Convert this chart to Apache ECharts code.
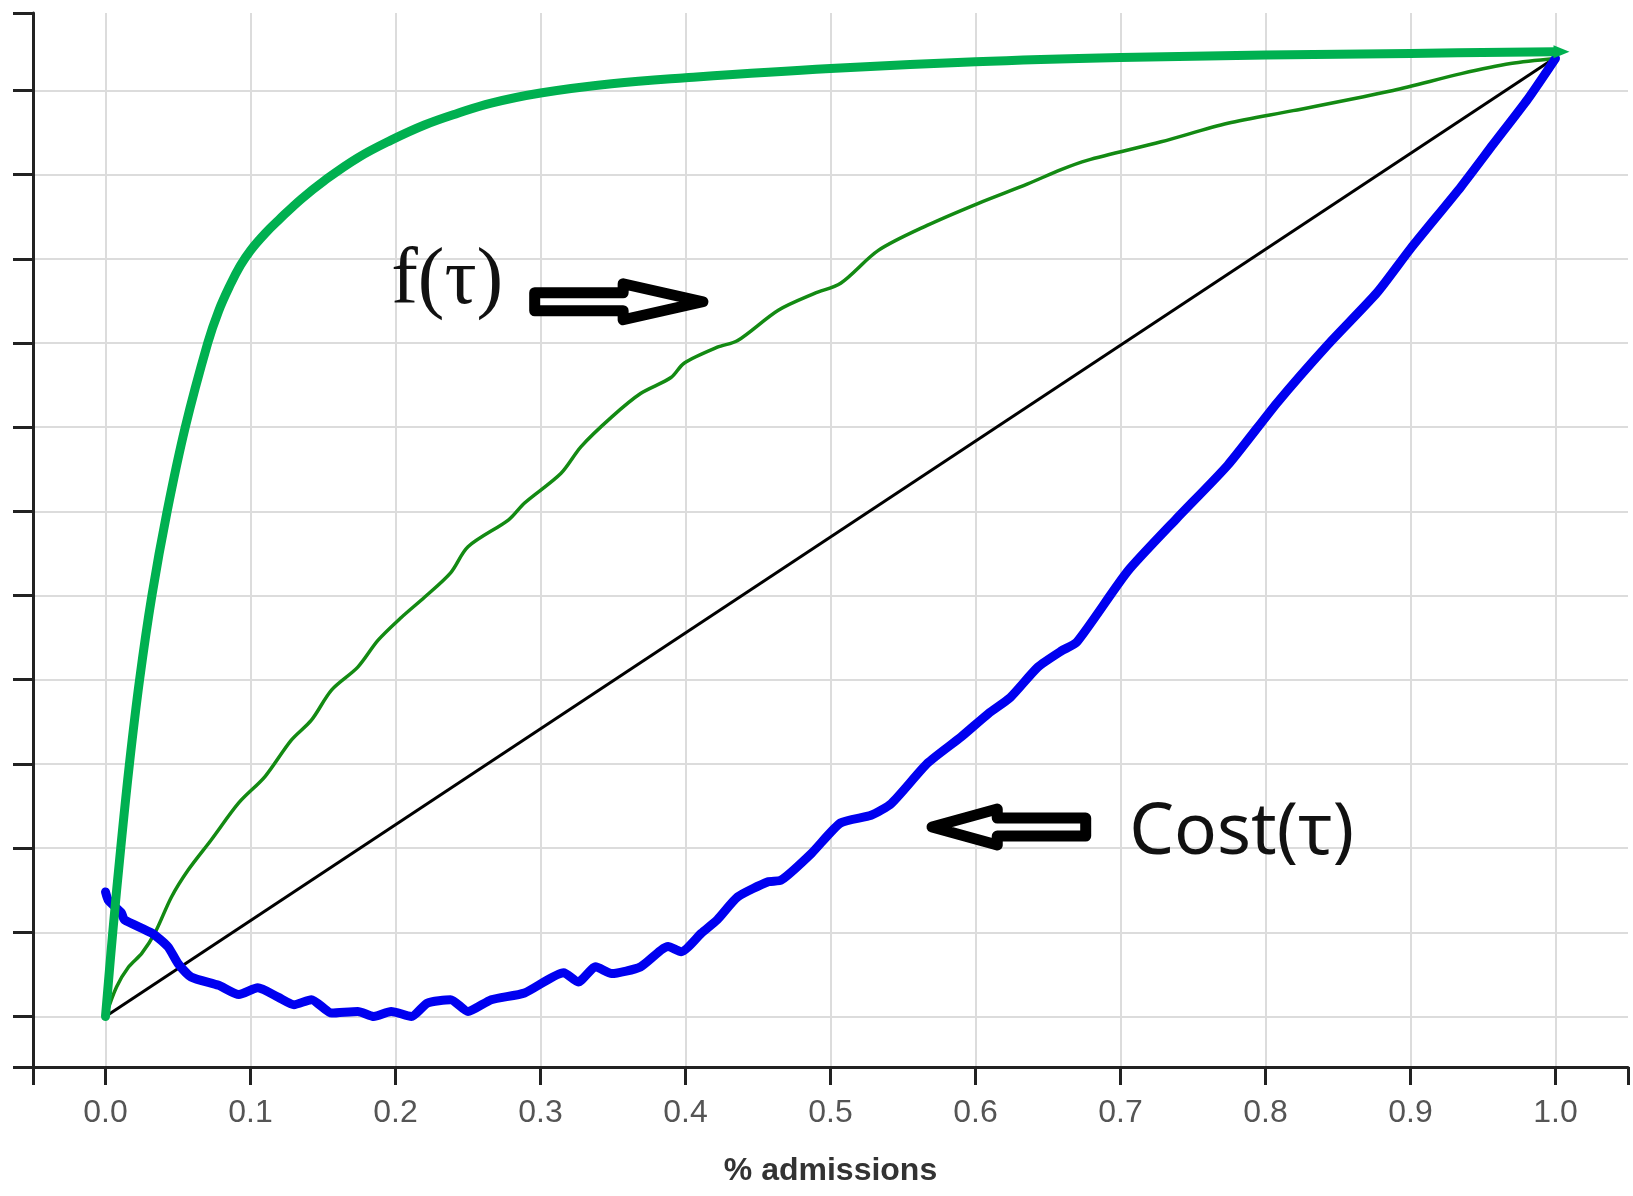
<!DOCTYPE html>
<html>
<head>
<meta charset="utf-8">
<script src="https://cdn.jsdelivr.net/npm/echarts@6/dist/echarts.min.js"></script>
<style>
html,body{margin:0;padding:0;background:#fff;}
#chart{width:1633px;height:1196px;}
</style>
</head>
<body>
<div id="chart"></div>
<script>
// ---- axis ticks ----
const xTickValues = [-0.05, 0, 0.1, 0.2, 0.3, 0.4, 0.5, 0.6, 0.7, 0.8, 0.9, 1.0, 1.05];
const xLabelValues = [0, 0.1, 0.2, 0.3, 0.4, 0.5, 0.6, 0.7, 0.8, 0.9, 1.0];
const yTickValues = [-0.6, 0, 1, 2, 3, 4, 5, 6, 7, 8, 9, 10, 11, 11.92];
const yGridValues = [0, 1, 2, 3, 4, 5, 6, 7, 8, 9, 10, 11];

// ---- series data: [% admissions, value in grid units] ----
const diagonal = [[0, 0], [1.0, 11.39]];

const fTau = [[0,0],[0.0076,0.35],[0.016,0.59],[0.025,0.75],[0.034,0.99],[0.0455,1.42],[0.057,1.74],[0.073,2.10],[0.092,2.54],[0.11,2.85],[0.128,3.28],[0.142,3.52],[0.156,3.88],[0.174,4.15],[0.188,4.47],[0.204,4.74],[0.22,4.98],[0.238,5.27],[0.25,5.58],[0.278,5.90],[0.289,6.10],[0.314,6.45],[0.328,6.77],[0.349,7.12],[0.369,7.40],[0.39,7.59],[0.399,7.76],[0.422,7.95],[0.436,8.03],[0.464,8.39],[0.489,8.59],[0.507,8.71],[0.533,9.10],[0.567,9.40],[0.602,9.66],[0.636,9.89],[0.659,10.06],[0.677,10.17],[0.728,10.39],[0.774,10.61],[0.819,10.76],[0.888,11.0],[0.935,11.2],[0.969,11.32],[1.0,11.38]];

const upperCurve = [[0,0],[0.005,1],[0.0105,2],[0.0165,3],[0.0235,4],[0.032,5],[0.0425,6],[0.055,7],[0.0705,8],[0.078,8.38],[0.086,8.69],[0.093,8.92],[0.1,9.1],[0.11,9.3],[0.12,9.47],[0.135,9.71],[0.151,9.93],[0.174,10.2],[0.197,10.41],[0.22,10.59],[0.243,10.73],[0.266,10.85],[0.30,10.97],[0.349,11.08],[0.40,11.15],[0.50,11.26],[0.60,11.34],[0.70,11.39],[0.80,11.42],[0.90,11.44],[1.0,11.46]];

const costTau = [[0,1.48],[0.002,1.38],[0.011,1.23],[0.013,1.15],[0.032,0.99],[0.043,0.83],[0.05,0.63],[0.059,0.47],[0.078,0.37],[0.092,0.26],[0.105,0.34],[0.119,0.23],[0.13,0.14],[0.142,0.2],[0.156,0.04],[0.174,0.06],[0.185,0],[0.197,0.06],[0.211,0],[0.222,0.16],[0.238,0.2],[0.25,0.06],[0.266,0.2],[0.289,0.28],[0.316,0.52],[0.326,0.41],[0.338,0.59],[0.349,0.51],[0.369,0.59],[0.388,0.83],[0.397,0.77],[0.411,0.99],[0.422,1.15],[0.436,1.42],[0.457,1.6],[0.466,1.62],[0.487,1.94],[0.507,2.3],[0.528,2.39],[0.542,2.53],[0.567,3.01],[0.59,3.32],[0.609,3.6],[0.624,3.79],[0.643,4.15],[0.659,4.34],[0.67,4.45],[0.705,5.29],[0.739,5.92],[0.774,6.55],[0.808,7.29],[0.843,7.98],[0.877,8.6],[0.9,9.12],[0.935,9.86],[0.957,10.36],[0.981,10.9],[1.0,11.38]];

// ---- annotations (data coordinates, left edge of text) ----
const annotationText = ['f(τ)', 'Cost(τ)'];
const annotationAt = [[0.197, 8.72], [0.706, 2.17]];
// [tail x, head base x, tip x, level]
const arrowRight = [0.296, 0.357, 0.412, 8.49];
const arrowLeft = [0.676, 0.615, 0.570, 2.25];

const chart = echarts.init(document.getElementById('chart'), null, {renderer: 'canvas'});

const axisColor = '#222';
const gridColor = '#dcdcdc';

const upperData = upperCurve.map((p, i) => i === upperCurve.length - 1
  ? {value: p, symbol: 'triangle', symbolSize: [13, 16], symbolRotate: -90, symbolOffset: [6, 0]}
  : {value: p});

chart.setOption({
  animation: false,
  backgroundColor: '#fff',
  grid: {left: 33, right: 5, top: 13, bottom: 129, containLabel: false, outerBoundsMode: 'none'},
  xAxis: [
    {
      type: 'value', min: -0.05, max: 1.05,
      name: '% admissions', nameLocation: 'middle', nameGap: 88,
      nameTextStyle: {fontFamily: 'Liberation Sans', fontWeight: 'bold', fontSize: 32, color: '#333'},
      axisLine: {show: true, onZero: false, lineStyle: {color: axisColor, width: 3}},
      axisTick: {show: true, length: 18, lineStyle: {color: axisColor, width: 3}, customValues: xTickValues},
      axisLabel: {show: true, customValues: xLabelValues, formatter: v => v.toFixed(1),
        fontFamily: 'Liberation Sans', fontSize: 32, color: '#555', margin: 30},
      splitLine: {show: false}
    },
    {
      type: 'value', min: -0.05, max: 1.05, position: 'bottom',
      axisLine: {show: false},
      axisTick: {show: false, customValues: xLabelValues},
      axisLabel: {show: false},
      splitLine: {show: true, lineStyle: {color: gridColor, width: 2}}
    }
  ],
  yAxis: [
    {
      type: 'value', min: -0.6, max: 11.92,
      axisLine: {show: true, onZero: false, lineStyle: {color: axisColor, width: 3}},
      axisTick: {show: true, length: 20, lineStyle: {color: axisColor, width: 3}, customValues: yTickValues},
      axisLabel: {show: false},
      splitLine: {show: false}
    },
    {
      type: 'value', min: -0.6, max: 11.92, position: 'left',
      axisLine: {show: false},
      axisTick: {show: false, customValues: yGridValues},
      axisLabel: {show: false},
      splitLine: {show: true, lineStyle: {color: gridColor, width: 2}}
    }
  ],
  series: [
    {
      name: 'diagonal', type: 'line', data: diagonal, symbol: 'none',
      lineStyle: {color: '#000', width: 3}, z: 3
    },
    {
      name: 'f(τ)', type: 'line', data: fTau, symbol: 'none', smooth: 0.3,
      lineStyle: {color: '#138a13', width: 3.5}, z: 4
    },
    {
      name: 'Cost(τ)', type: 'line', data: costTau, symbol: 'none', smooth: 0.2,
      lineStyle: {color: '#0000f0', width: 9, cap: 'round', join: 'round'}, z: 5
    },
    {
      name: 'upper', type: 'line', data: upperData, symbol: 'circle', symbolSize: 0, showSymbol: true,
      smooth: 0.4, clip: false,
      itemStyle: {color: '#00b050'},
      lineStyle: {color: '#00b050', width: 9, cap: 'round', join: 'round'}, z: 6
    }
  ]
});

function px(p) {
  return chart.convertToPixel({xAxisIndex: 0, yAxisIndex: 0}, p);
}

function arrowShape(a) {
  const tail = px([a[0], a[3]]);
  const base = px([a[1], a[3]]);
  const tip = px([a[2], a[3]]);
  const cy = tail[1];
  const h1 = 9, h2 = 18;
  return [[tail[0], cy - h1], [base[0], cy - h1], [base[0], cy - h2], [tip[0], cy],
          [base[0], cy + h2], [base[0], cy + h1], [tail[0], cy + h1]];
}

const fPos = px(annotationAt[0]);
const cPos = px(annotationAt[1]);

chart.setOption({
  graphic: [
    {type: 'polygon', shape: {points: arrowShape(arrowRight)},
      style: {fill: '#fff', stroke: '#000', lineWidth: 11, lineJoin: 'round'}, z: 100},
    {type: 'polygon', shape: {points: arrowShape(arrowLeft)},
      style: {fill: '#fff', stroke: '#000', lineWidth: 11, lineJoin: 'round'}, z: 100},
    {type: 'text', x: fPos[0], y: fPos[1], z: 100,
      style: {text: annotationText[0], fontFamily: 'Liberation Serif', fontSize: 80, fill: '#111',
        align: 'left', verticalAlign: 'middle'}},
    {type: 'text', x: cPos[0], y: cPos[1], z: 100,
      style: {text: annotationText[1], fontFamily: 'Noto Sans', fontSize: 71, fill: '#111',
        align: 'left', verticalAlign: 'middle'}}
  ]
});
</script>
</body>
</html>
